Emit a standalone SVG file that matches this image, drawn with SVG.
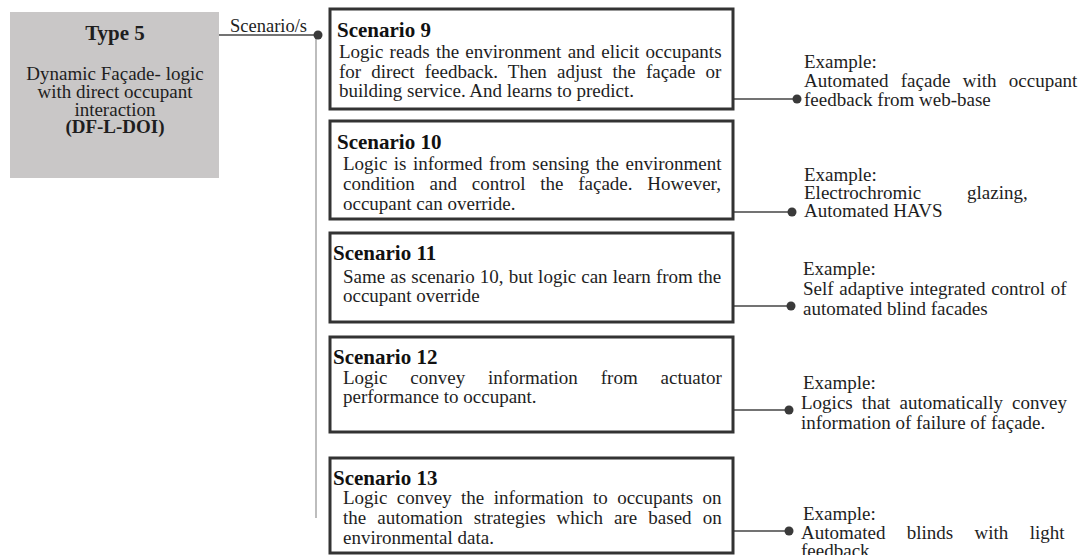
<svg xmlns="http://www.w3.org/2000/svg" width="1080" height="555" viewBox="0 0 1080 555">
<style>
.t{font-family:"Liberation Serif","Times New Roman",serif;font-size:19px;fill:#1e1e1e}
.h{font-family:"Liberation Serif","Times New Roman",serif;font-size:21px;font-weight:bold;fill:#111}
.bb{font-weight:bold}
.box{fill:#fff;stroke:#333;stroke-width:3}
.ln{stroke:#444;stroke-width:1.3;fill:none}
.dot{fill:#3a3a3a}
</style>
<rect width="1080" height="555" fill="#fff"/>
<g id="type5">
<rect x="10" y="12" width="209" height="166" fill="#c9c7c7"/>
<text class="t bb" x="115" y="40" text-anchor="middle" style="font-size:21px">Type 5</text>
<text class="t" x="115" y="80" text-anchor="middle">Dynamic Façade- logic</text>
<text class="t" x="115" y="98" text-anchor="middle">with direct occupant</text>
<text class="t" x="115" y="116" text-anchor="middle">interaction</text>
<text class="t bb" x="115" y="133" text-anchor="middle">(DF-L-DOI)</text>
</g>
<g id="connectors">
<line x1="219" y1="35" x2="317" y2="35" class="ln"/>
<line x1="316" y1="35" x2="316" y2="518" stroke="#bdbdbd" stroke-width="2"/>
<circle cx="318" cy="35" r="4.5" class="dot"/>
<text class="t" x="230" y="32" style="font-size:18.5px">Scenario/s</text>
<line x1="733" y1="99" x2="797" y2="99" class="ln"/>
<circle cx="797" cy="99" r="4.5" class="dot"/>
<line x1="733" y1="212" x2="792" y2="212" class="ln"/>
<circle cx="792" cy="212" r="4.5" class="dot"/>
<line x1="733" y1="306" x2="791" y2="306" class="ln"/>
<circle cx="791" cy="306" r="4.5" class="dot"/>
<line x1="733" y1="410" x2="789" y2="410" class="ln"/>
<circle cx="789" cy="410" r="4.5" class="dot"/>
<line x1="733" y1="531" x2="789" y2="531" class="ln"/>
<circle cx="789" cy="531" r="4.5" class="dot"/>
</g>
<g id="scenario9">
<rect x="330" y="9" width="403" height="100" class="box"/>
<text class="h" x="337" y="37">Scenario 9</text>
<text class="t" x="339" y="58" word-spacing="1.5">Logic reads the environment and elicit occupants</text>
<text class="t" x="339" y="77.5" word-spacing="5.4">for direct feedback. Then adjust the façade or</text>
<text class="t" x="339" y="97">building service. And learns to predict.</text>
</g>
<g id="scenario10">
<rect x="330" y="121" width="403" height="98" class="box"/>
<text class="h" x="337" y="149">Scenario 10</text>
<text class="t" x="343" y="170" word-spacing="1.7">Logic is informed from sensing the environment</text>
<text class="t" x="343" y="190" word-spacing="10">condition and control the façade. However,</text>
<text class="t" x="343" y="209.5">occupant can override.</text>
</g>
<g id="scenario11">
<rect x="330" y="233" width="403" height="89" class="box"/>
<text class="h" x="333" y="259.5">Scenario 11</text>
<text class="t" x="343" y="282.5" word-spacing="0.4">Same as scenario 10, but logic can learn from the</text>
<text class="t" x="343" y="301.5">occupant override</text>
</g>
<g id="scenario12">
<rect x="330" y="337" width="403" height="95" class="box"/>
<text class="h" x="333" y="363.5">Scenario 12</text>
<text class="t" x="343" y="383.5" word-spacing="18.2">Logic convey information from actuator</text>
<text class="t" x="343" y="403">performance to occupant.</text>
</g>
<g id="scenario13">
<rect x="330" y="458" width="403" height="95" class="box"/>
<text class="h" x="333" y="484.5">Scenario 13</text>
<text class="t" x="343" y="504" word-spacing="4.7">Logic convey the information to occupants on</text>
<text class="t" x="343" y="523.5" word-spacing="6.3">the automation strategies which are based on</text>
<text class="t" x="343" y="543.5">environmental data.</text>
</g>
<g id="example9">
<text class="t" x="804" y="68">Example:</text>
<text class="t" x="804" y="87" word-spacing="7.6">Automated façade with occupant</text>
<text class="t" x="804" y="106">feedback from web-base</text>
</g>
<g id="example10">
<text class="t" x="804" y="180.5">Example:</text>
<text class="t" x="804" y="198.5">Electrochromic</text>
<text class="t" x="967" y="198.5">glazing,</text>
<text class="t" x="804" y="217">Automated HAVS</text>
</g>
<g id="example11">
<text class="t" x="803" y="275">Example:</text>
<text class="t" x="803" y="295" word-spacing="1">Self adaptive integrated control of</text>
<text class="t" x="803" y="315">automated blind facades</text>
</g>
<g id="example12">
<text class="t" x="803" y="388.5">Example:</text>
<text class="t" x="801" y="408.5" word-spacing="4.4">Logics that automatically convey</text>
<text class="t" x="801" y="428.5">information of failure of façade.</text>
</g>
<g id="example13">
<text class="t" x="803" y="519.5">Example:</text>
<text class="t" x="801" y="538.5" word-spacing="16.6">Automated blinds with light</text>
<text class="t" x="801" y="557">feedback</text>
</g>
</svg>
